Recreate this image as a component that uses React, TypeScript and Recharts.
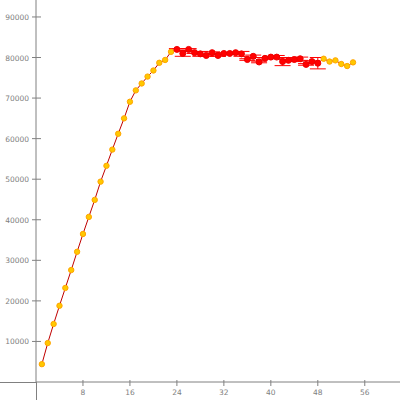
import React from 'react';
import { ComposedChart, Line, Scatter, XAxis, YAxis, ErrorBar } from 'recharts';

// values, one point per x step
const xValues = [
  1, 2, 3, 4, 5, 6, 7, 8, 9, 10, 11, 12, 13, 14, 15, 16, 17, 18,
  19, 20, 21, 22, 23, 24, 25, 26, 27, 28, 29, 30, 31, 32, 33, 34, 35, 36,
  37, 38, 39, 40, 41, 42, 43, 44, 45, 46, 47, 48, 49, 50, 51, 52, 53, 54,
];
const yValues = [
  4400, 9600, 14300, 18800, 23200, 27600, 32100, 36500, 40700, 44900, 49400, 53300,
  57300, 61200, 65000, 69100, 71900, 73600, 75300, 76800, 78700, 79400, 81400,
  82000, 81000, 82000, 81200, 80900, 80500, 81200, 80500, 81000, 81000, 81200, 80900,
  79500, 80300, 78900, 79800, 80100, 80100, 79000, 79300, 79500, 79700, 78300, 79000,
  78600, 79700, 79000, 79300, 78400, 77900, 78800,
];
// error only on the plateau (red) points
const yErrors = [
  0, 0, 0, 0, 0, 0, 0, 0, 0, 0, 0, 0, 0, 0, 0, 0, 0, 0, 0, 0, 0, 0, 0,
  200, 700, 200, 200, 600, 200, 200, 200, 200, 200, 200, 600,
  200, 300, 200, 200, 200, 400, 1000, 200, 500, 400, 200, 200,
  1400, 0, 0, 0, 0, 0, 0,
];
const redStart = 24;
const redEnd = 48;

const xTicks = [8, 16, 24, 32, 40, 48, 56];
const yTicks = [10000, 20000, 30000, 40000, 50000, 60000, 70000, 80000, 90000];

const data = xValues.map((x, i) => ({ x, y: yValues[i], err: yErrors[i] }));
const yellowData = data.filter((d) => d.x < redStart || d.x > redEnd);
const redData = data.filter((d) => d.x >= redStart && d.x <= redEnd);

const AXIS = '#808080';
const LABEL = '#808080';
const FONT = '"DejaVu Sans", sans-serif';

const YTick = (props: any) => {
  const { x, y, payload } = props;
  return (
    <g>
      <line x1={x - 4} x2={x + 5} y1={y} y2={y} stroke={AXIS} />
      <text x={x - 7} y={y + 3} textAnchor="end" fontSize={7.5} fontFamily={FONT} fill={LABEL}>
        {payload.value}
      </text>
    </g>
  );
};

const XTick = (props: any) => {
  const { x, y, payload } = props;
  return (
    <g>
      <line x1={x} x2={x} y1={y - 2} y2={y + 4} stroke={AXIS} />
      <text x={x} y={y + 13} textAnchor="middle" fontSize={7.5} fontFamily={FONT} fill={LABEL}>
        {payload.value}
      </text>
    </g>
  );
};

const YellowDot = (props: any) => (
  <circle cx={props.cx} cy={props.cy} r={2.7} fill="#FFC800" stroke="#FFA500" strokeWidth={1} />
);
const RedDot = (props: any) => (
  <circle cx={props.cx} cy={props.cy} r={3} fill="#FF0000" stroke="#F00000" strokeWidth={1} />
);

const App = () => {
  return (
    <div style={{ position: 'relative', width: 400, height: 400 }}>
      <style>{`body { margin: 0; }`}</style>
      <ComposedChart width={400} height={400} data={data} margin={{ top: 0, right: 0, bottom: 0, left: 0 }}>
        <XAxis
          dataKey="x"
          type="number"
          domain={[0, 62]}
          ticks={xTicks}
          height={18}
          tickSize={0}
          tickMargin={0}
          tickLine={false}
          axisLine={{ stroke: AXIS }}
          tick={<XTick />}
          allowDataOverflow
        />
        <YAxis
          type="number"
          domain={[0, 94180]}
          ticks={yTicks}
          width={36}
          tickSize={0}
          tickMargin={0}
          tickLine={false}
          axisLine={{ stroke: AXIS }}
          tick={<YTick />}
          allowDataOverflow
        />
        <Line dataKey="y" stroke="#C00000" strokeWidth={1} dot={false} isAnimationActive={false} />
        <Scatter data={yellowData} dataKey="y" shape={<YellowDot />} isAnimationActive={false} />
        <Scatter data={redData} dataKey="y" shape={<RedDot />} isAnimationActive={false}>
          <ErrorBar dataKey="err" direction="y" width={8} stroke="#FF0000" strokeWidth={1} />
        </Scatter>
      </ComposedChart>
      {/* axis lines run past the plot area in the reference */}
      <div style={{ position: 'absolute', left: 0, top: 382, width: 36, height: 1, background: AXIS }} />
      <div style={{ position: 'absolute', left: 36, top: 382, width: 1, height: 18, background: AXIS }} />
    </div>
  );
};

export default App;
